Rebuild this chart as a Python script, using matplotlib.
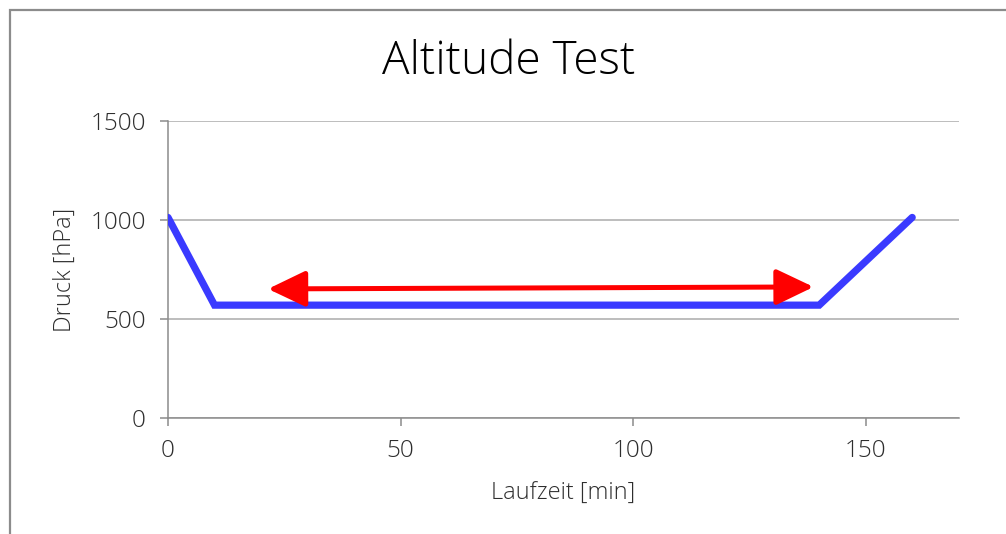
import matplotlib
matplotlib.use("Agg")
import matplotlib.pyplot as plt
from matplotlib.patches import FancyArrowPatch, Rectangle

plt.rcParams['font.family'] = ['Open Sans', 'DejaVu Sans']

# pressure profile of the test run
laufzeit = [0, 10, 140, 160]
druck = [1013, 570, 570, 1013]

# hold phase marker (double arrow)
pfeil_start = (21.5, 652)
pfeil_ende = (138.8, 662)

x_ticks = [0, 50, 100, 150]
y_ticks = [0, 500, 1000, 1500]

fig = plt.figure(figsize=(10.06, 5.34), dpi=100)
ax = fig.add_axes([0.167, 0.2172, 0.786, 0.5562])

# frame around the chart area
fig.patches.append(Rectangle((10 / 1006, -0.1), 1.2, 1 - 10 / 534 + 0.1,
                             transform=fig.transFigure, fill=False,
                             edgecolor='#8c8c8c', linewidth=1.6))

ax.plot(laufzeit, druck, color='#3a3aff', linewidth=5.2,
        solid_capstyle='round', solid_joinstyle='miter', zorder=3)

arrow = FancyArrowPatch(pfeil_start, pfeil_ende,
                        arrowstyle='<|-|>,head_length=1.15,head_width=0.55',
                        mutation_scale=20, linewidth=3.6, color='red',
                        shrinkA=0, shrinkB=0, zorder=4)
ax.add_patch(arrow)

ax.set_xlim(0, 170)
ax.set_ylim(0, 1500)
ax.set_xticks(x_ticks)
ax.set_yticks(y_ticks)
ax.yaxis.grid(True, color='#ababab', linewidth=1.1)
ax.set_axisbelow(True)

for side in ['top', 'right']:
    ax.spines[side].set_visible(False)
for side in ['left', 'bottom']:
    ax.spines[side].set_color('#8c8c8c')
    ax.spines[side].set_linewidth(1.1)

ax.tick_params(axis='both', direction='out', length=6, width=1.1,
               color='#8c8c8c', labelsize=17.5, labelcolor='#2e2e2e')
ax.tick_params(axis='y', pad=10)
ax.tick_params(axis='x', pad=9)
for lbl in ax.get_xticklabels() + ax.get_yticklabels():
    lbl.set_fontweight('light')

fig.text(509 / 1006, 1 - 62 / 534, 'Altitude Test', fontsize=33,
         fontweight='light', color='black', ha='center', va='center')
ax.set_xlabel('Laufzeit [min]', fontsize=17, fontweight='light',
              color='#2e2e2e', labelpad=14)
ax.set_ylabel('Druck [hPa]', fontsize=17, fontweight='light',
              color='#2e2e2e', labelpad=10)

fig.savefig('out.png', dpi=100)
